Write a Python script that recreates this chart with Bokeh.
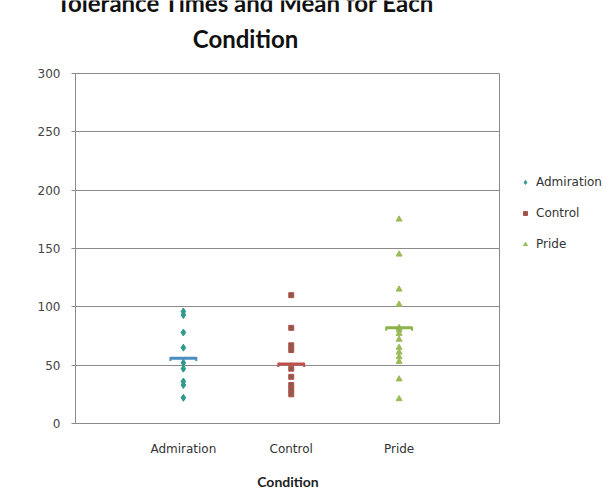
from bokeh.plotting import figure
from bokeh.layouts import column, row
from bokeh.models import (Legend, LegendItem, ColumnDataSource,
                          FixedTicker, Range1d)
from bokeh.core.properties import value
from bokeh.embed import file_html
from bokeh.resources import INLINE

# ---- data ----
categories = ["Admiration", "Control", "Pride"]
cat_pos = [1, 2, 3]
admiration = [96, 93, 78, 65, 52, 47, 36, 33, 22]
control = [110, 82, 67, 63, 47, 40, 33, 29, 25]
pride = [175, 145, 115, 102, 82, 80, 77, 72, 65, 61, 57, 53, 38, 21]
means = [56, 51, 82]
y_ticks = [0, 50, 100, 150, 200, 250, 300]
title_lines = ["Tolerance Times and Mean for Each", "Condition"]

FONT = "DejaVu Sans"
TITLE_FONT = "Lato"


def bare(fig):
    fig.outline_line_color = None
    fig.xgrid.visible = False
    fig.ygrid.visible = False
    fig.background_fill_color = "white"
    fig.border_fill_color = "white"


# ---- title strip (top line partly cut off, as in the reference) ----
tf = figure(width=613, height=60, x_range=Range1d(0, 613),
            y_range=Range1d(60, 0), output_backend="svg",
            toolbar_location=None, min_border=0,
            x_axis_type=None, y_axis_type=None)
bare(tf)
tf.text(x=[245, 245], y=[2, 38], text=title_lines,
        text_align="center", text_baseline="alphabetic",
        text_font=value(TITLE_FONT), text_font_style="bold",
        text_font_size="24px", text_color="#111111")

# ---- main chart ----
p = figure(width=500, height=443, x_range=Range1d(0, 3.94),
           y_range=Range1d(0, 300), output_backend="svg",
           toolbar_location=None, min_border_left=75, min_border_right=0,
           min_border_top=13, min_border_bottom=80)

p.background_fill_color = "white"
p.border_fill_color = "white"
p.outline_line_color = "#8a8a8a"
p.xgrid.visible = False
p.ygrid.grid_line_color = "#8a8a8a"
p.ygrid.grid_line_width = 1

p.yaxis.ticker = FixedTicker(ticks=y_ticks)
p.yaxis.axis_line_color = "#8a8a8a"
p.yaxis.major_tick_line_color = "#8a8a8a"
p.yaxis.major_tick_out = 4
p.yaxis.major_tick_in = 0
p.yaxis.minor_tick_line_color = None
p.yaxis.major_label_standoff = 11
p.yaxis.major_label_text_font = FONT
p.yaxis.major_label_text_font_size = "12px"
p.yaxis.major_label_text_color = "#444444"

p.xaxis.ticker = FixedTicker(ticks=cat_pos)
p.xaxis.major_label_overrides = {pos: name for pos, name in zip(cat_pos, categories)}
p.xaxis.axis_line_color = "#8a8a8a"
p.xaxis.major_tick_line_color = None
p.xaxis.minor_tick_line_color = None
p.xaxis.major_label_standoff = 12
p.xaxis.major_label_text_font = FONT
p.xaxis.major_label_text_font_size = "12px"
p.xaxis.major_label_text_color = "#333333"
p.xaxis.axis_label = "Condition"
p.xaxis.axis_label_text_font = TITLE_FONT
p.xaxis.axis_label_text_font_style = "bold"
p.xaxis.axis_label_text_font_size = "14px"
p.xaxis.axis_label_text_color = "#222222"
p.xaxis.axis_label_standoff = 14

# ---- legend strip ----
lf = figure(width=113, height=443, x_range=Range1d(0, 1), y_range=Range1d(0, 1),
            output_backend="svg", toolbar_location=None, min_border=0,
            x_axis_type=None, y_axis_type=None)
bare(lf)

series = [
    ("Admiration", admiration, "diamond", "#2E9A8C", "#2E9A8C", 7, "#4A8EC0"),
    ("Control", control, "square", "#8B5A48", "#B5514C", 5, "#C0504D"),
    ("Pride", pride, "triangle", "#9BBB59", "#9BBB59", 6, "#8DB24A"),
]

items = []
for i, (name, vals, marker, fill, line, size, mcol) in enumerate(series):
    src = ColumnDataSource(dict(x=[cat_pos[i]] * len(vals), y=vals))
    p.scatter("x", "y", source=src, marker=marker, size=size,
              fill_color=fill, line_color=line, line_width=1)
    # legend proxy: same marker style, point kept outside the strip's view
    dummy = lf.scatter(x=[-10], y=[-10], marker=marker, size=size,
                       fill_color=fill, line_color=line, line_width=1)
    items.append(LegendItem(label=name, renderers=[dummy]))
    m = means[i]
    x0 = cat_pos[i] - 0.12
    x1 = cat_pos[i] + 0.12
    p.segment(x0=[x0], y0=[m], x1=[x1], y1=[m], line_color=mcol, line_width=3)
    p.segment(x0=[x0, x1, cat_pos[i]], y0=[m - 2.5] * 3,
              x1=[x0, x1, cat_pos[i]], y1=[m + 1] * 3,
              line_color=mcol, line_width=2)

legend = Legend(items=items, location=(20, 169), orientation="vertical",
                glyph_width=10, glyph_height=20, label_standoff=6, spacing=11,
                padding=0, margin=0, border_line_color=None,
                background_fill_alpha=0, label_text_font=FONT,
                label_text_font_size="12px", label_text_color="#333333")
lf.add_layout(legend, "center")

layout = column(tf, row(p, lf, spacing=0), spacing=0)
open("out.html", "w").write(file_html(layout, INLINE))
